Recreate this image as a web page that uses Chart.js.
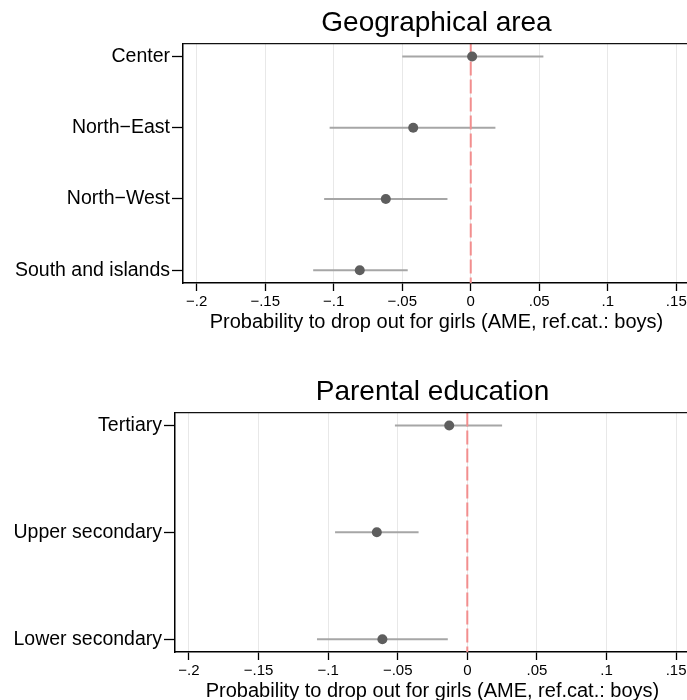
<!DOCTYPE html>
<html>
<head>
<meta charset="utf-8">
<script src="https://cdn.jsdelivr.net/npm/chart.js@4/dist/chart.umd.min.js"></script>
<style>
  html, body { margin: 0; padding: 0; background: #fff; overflow: hidden; width: 687px; height: 700px; }
  canvas { position: absolute; left: 0; }
  #geoChart { top: 0; }
  #eduChart { top: 369px; }
</style>
</head>
<body>
<canvas id="geoChart" width="695" height="345"></canvas>
<canvas id="eduChart" width="695" height="345"></canvas>
<script>
const xTicks = [-0.2, -0.15, -0.1, -0.05, 0, 0.05, 0.1, 0.15];
const xTitle = 'Probability to drop out for girls (AME, ref.cat.: boys)';

const geoLabels = ['Center', 'North\u2212East', 'North\u2212West', 'South and islands'];
const geoEst = [0.001, -0.042, -0.062, -0.081];
const geoLo = [-0.050, -0.103, -0.107, -0.115];
const geoHi = [0.053, 0.018, -0.017, -0.046];

const eduLabels = ['Tertiary', 'Upper secondary', 'Lower secondary'];
const eduEst = [-0.013, -0.065, -0.061];
const eduLo = [-0.052, -0.095, -0.108];
const eduHi = [0.025, -0.035, -0.014];

const FONT = 'Liberation Sans, Arial, Helvetica, sans-serif';
const COLOR_POINT = '#5e5e5e';
const COLOR_CI = '#a6a6a6';
const COLOR_ZERO = '#f28e8e';

const fmtTick = (v) => {
  const r = Math.round(v * 100) / 100;
  if (r === 0) return '0';
  const s = String(Math.abs(r)).replace(/^0/, '');
  return r < 0 ? '\u2212' + s : s;
};

// top edge of the plot region
const frameTop = {
  id: 'frameTop',
  afterDraw(chart) {
    const { ctx, chartArea } = chart;
    ctx.save();
    ctx.strokeStyle = '#111';
    ctx.lineWidth = 1.3;
    ctx.beginPath();
    ctx.moveTo(chartArea.left, chartArea.top);
    ctx.lineTo(chartArea.right, chartArea.top);
    ctx.stroke();
    ctx.restore();
  },
};

const makePanel = (canvas, title, labels, est, lo, hi, leftWidth, yPad) => {
  const yMin = -yPad;
  const yMax = labels.length - 1 + yPad;

  const ciSets = labels.map((_, i) => ({
    type: 'line',
    data: [{ x: lo[i], y: i }, { x: hi[i], y: i }],
    borderColor: COLOR_CI,
    borderWidth: 2,
    pointRadius: 0,
    showLine: true,
    order: 3,
  }));

  const datasets = [
    {
      data: est.map((v, i) => ({ x: v, y: i })),
      backgroundColor: COLOR_POINT,
      borderWidth: 0,
      pointRadius: 5,
      order: 1,
    },
    {
      type: 'line',
      data: [{ x: 0, y: yMin }, { x: 0, y: yMax }],
      borderColor: COLOR_ZERO,
      borderWidth: 2,
      borderDash: [14, 4],
      pointRadius: 0,
      showLine: true,
      order: 2,
    },
    ...ciSets,
  ];

  return new Chart(canvas, {
    type: 'scatter',
    data: { datasets },
    options: {
      responsive: false,
      animation: false,
      devicePixelRatio: 1,
      layout: { padding: { left: 0, right: 1, top: 0, bottom: 0 } },
      plugins: {
        legend: { display: false },
        tooltip: { enabled: false },
        title: {
          display: true,
          text: title,
          fullSize: false,
          color: '#000',
          font: { family: FONT, size: 28, weight: 'normal', lineHeight: 1.2 },
          padding: { top: 6, bottom: 4 },
        },
      },
      scales: {
        x: {
          type: 'linear',
          min: -0.21,
          max: 0.16,
          afterFit: (scale) => { scale.height = 62; },
          afterBuildTicks: (scale) => { scale.ticks = xTicks.map((v) => ({ value: v })); },
          border: { color: '#000', width: 1.5 },
          grid: {
            color: '#e8e8e8',
            lineWidth: 1,
            tickColor: '#000',
            tickWidth: 1.3,
            tickLength: 8,
          },
          ticks: {
            color: '#000',
            padding: 2,
            maxRotation: 0,
            autoSkip: false,
            font: { family: FONT, size: 15 },
            callback: (v) => fmtTick(v),
          },
          title: {
            display: true,
            text: xTitle,
            color: '#000',
            font: { family: FONT, size: 20 },
            padding: { top: 0, bottom: 11 },
          },
        },
        y: {
          type: 'linear',
          reverse: true,
          min: yMin,
          max: yMax,
          afterFit: (scale) => { scale.width = leftWidth; },
          afterBuildTicks: (scale) => { scale.ticks = labels.map((_, i) => ({ value: i })); },
          border: { color: '#000', width: 1.5 },
          grid: {
            drawOnChartArea: false,
            tickColor: '#000',
            tickWidth: 1.3,
            tickLength: 11,
          },
          ticks: {
            color: '#000',
            padding: 2,
            autoSkip: false,
            font: { family: FONT, size: 19.5 },
            callback: (v) => labels[Math.round(v)],
          },
        },
      },
    },
    plugins: [frameTop],
  });
};

makePanel(document.getElementById('geoChart'), 'Geographical area',
  geoLabels, geoEst, geoLo, geoHi, 183, 0.18);
makePanel(document.getElementById('eduChart'), 'Parental education',
  eduLabels, eduEst, eduLo, eduHi, 175, 0.12);
</script>
</body>
</html>
